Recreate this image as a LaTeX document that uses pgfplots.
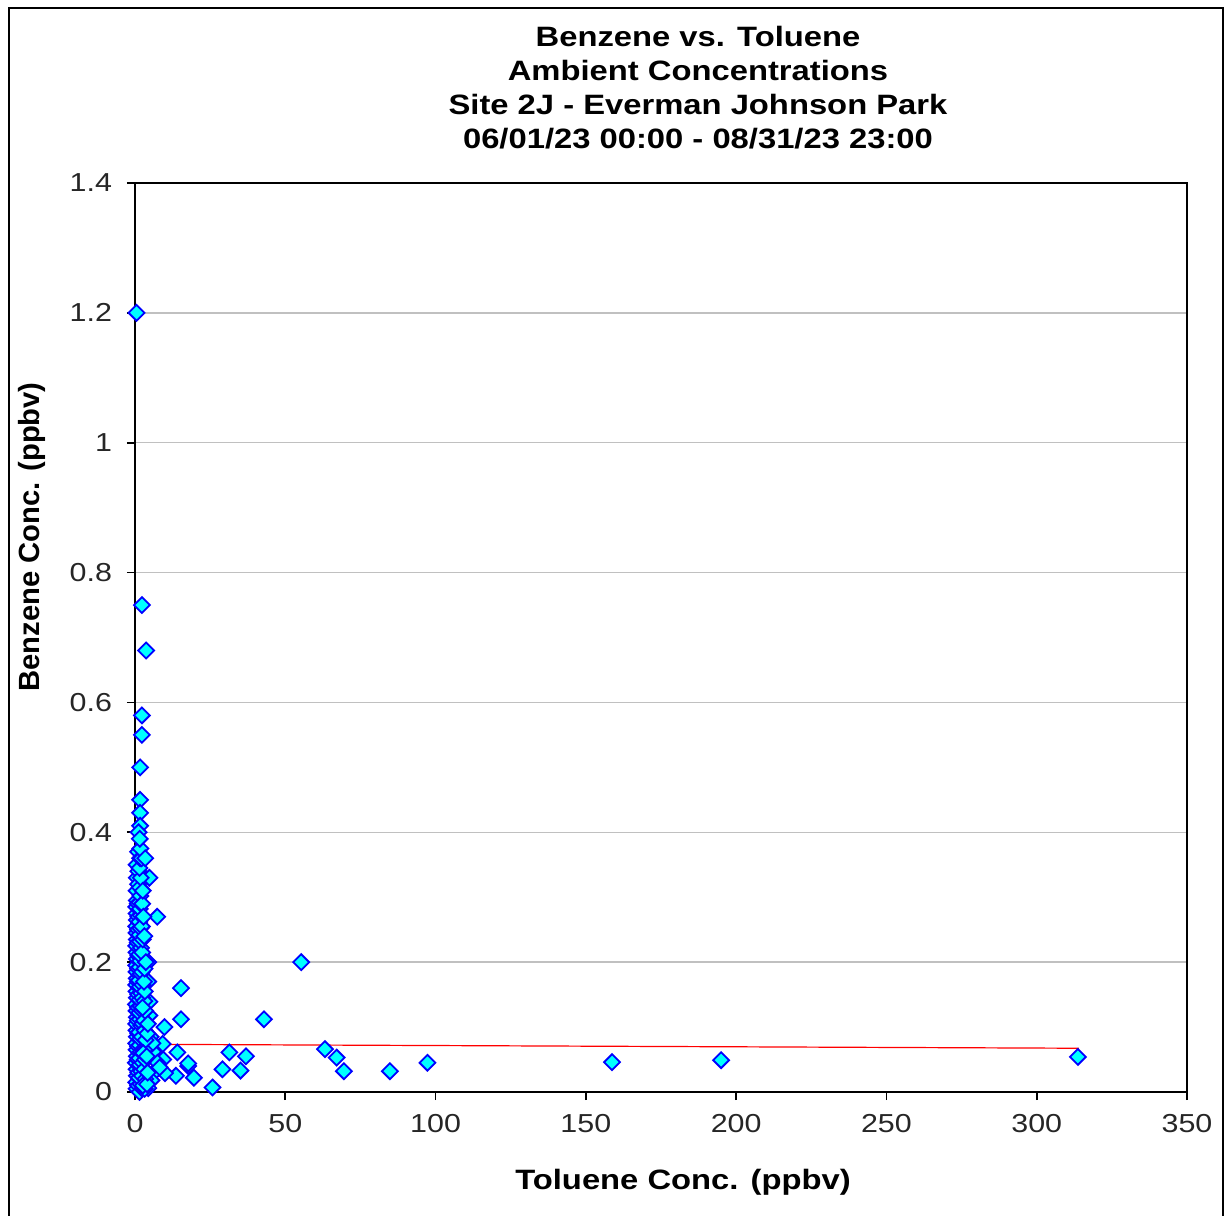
\documentclass[border=0pt]{standalone}
\usepackage{pgfplots}
\pgfplotsset{compat=1.18}
\usepackage{fontspec}
\setmainfont[FakeStretch=1.17]{Liberation Sans}
\newfontfamily\plainfont{Liberation Sans}
\definecolor{mkfill}{RGB}{0,255,255}
\definecolor{mkedge}{RGB}{0,0,255}
\definecolor{gridc}{RGB}{192,192,192}
\begin{document}
\begin{tikzpicture}
\useasboundingbox (-67.5pt,-61.5pt) rectangle (545pt,546pt);
\draw[line width=1pt] (-63pt,-75pt) rectangle (544pt,542pt);
\begin{axis}[
  at={(0pt,0pt)}, anchor=south west,
  scale only axis, width=526pt, height=454.5pt,
  xmin=0, xmax=350, ymin=0, ymax=1.4,
  xtick={0,50,100,150,200,250,300,350},
  xticklabels={0,50,100,150,200,250,300,350},
  ytick={0,0.2,0.4,0.6,0.8,1,1.2,1.4},
  yticklabels={0,0.2,0.4,0.6,0.8,1,1.2,1.4},
  tick align=outside, xtick pos=left, ytick pos=left,
  major tick length=4pt,
  tick style={black, line width=0.8pt},
  axis line style={black, line width=0.9pt},
  ymajorgrids, major grid style={gridc, line width=0.7pt},
  ticklabel style={font=\fontsize{13}{15}\selectfont, text=black!85},
  yticklabel style={xshift=-4pt},
  xticklabel style={yshift=-3.5pt},
  clip=false,
]
\addplot[only marks, mark=square*, mark size=2.8pt,
  mark options={rotate=45, fill=mkfill, draw=mkedge, line width=0.9pt}]
coordinates {
(0.5,1.2) (2.3,0.75) (3.7,0.68) (2.3,0.58) (2.3,0.55) (1.7,0.50) (1.7,0.45) (1.7,0.43) (1.7,0.41)
(4.8,0.33) (7.4,0.27) (55.3,0.20) (15.3,0.16) (15.3,0.112) (42.9,0.112) (9.8,0.10) (9.2,0.074)
(63.2,0.066) (67.1,0.053) (69.5,0.032) (84.8,0.032) (97.3,0.045) (158.7,0.046) (195,0.049) (313.7,0.054)
(31.4,0.061) (36.9,0.055) (29.1,0.035) (35.1,0.033) (25.8,0.007) (19.6,0.022) (17.7,0.040) (17.7,0.044)
(14.1,0.061) (13.6,0.025) (9.4,0.050) (10,0.029) (6.7,0.032) (4.8,0.139) (4.8,0.118) (4.4,0.17) (4.4,0.2)
(6.1,0.062) (5.5,0.018) (4.4,0.006) (7.5,0.045) (8.2,0.038) (5.2,0.085) (5.8,0.075)
(0.5,0.005) (0.4,0.015) (0.6,0.025) (0.5,0.035) (0.3,0.045) (0.6,0.055) (0.5,0.065) (0.4,0.075)
(0.6,0.085) (0.5,0.095) (0.4,0.105) (0.6,0.115) (0.5,0.125) (0.3,0.135) (0.6,0.145) (0.5,0.155)
(0.4,0.165) (0.6,0.175) (0.5,0.185) (0.4,0.195) (0.6,0.205) (0.5,0.215) (0.4,0.225) (0.6,0.235)
(0.5,0.245) (0.4,0.255) (0.6,0.265) (0.5,0.275) (0.4,0.285) (0.6,0.295) (0.5,0.31) (0.6,0.33) (0.5,0.35)
(1.0,0.01) (1.1,0.03) (0.9,0.05) (1.0,0.07) (1.1,0.09) (0.9,0.11) (1.0,0.13) (1.1,0.15) (0.9,0.17)
(1.0,0.19) (1.1,0.21) (0.9,0.23) (1.0,0.25) (1.1,0.27) (0.9,0.29) (1.0,0.32) (1.1,0.34) (1.0,0.37) (1.2,0.40)
(1.5,0.0) (1.8,0.012) (1.3,0.022) (2.0,0.032) (1.6,0.042) (1.4,0.052) (1.9,0.062) (1.5,0.072)
(1.7,0.082) (1.3,0.092) (2.1,0.102) (1.6,0.112) (1.4,0.122) (1.8,0.132) (1.5,0.142) (2.0,0.152)
(1.6,0.162) (1.3,0.172) (1.9,0.182) (1.5,0.192) (1.7,0.202) (1.4,0.212) (2.0,0.222) (1.6,0.232)
(1.5,0.242) (1.8,0.252) (1.4,0.262) (1.9,0.272) (1.6,0.282) (1.5,0.292) (1.8,0.302) (1.6,0.315)
(1.9,0.33) (1.5,0.345) (1.7,0.36) (2.2,0.36) (1.8,0.375) (1.6,0.39)
(2.4,0.005) (2.3,0.025) (2.5,0.045) (2.4,0.065) (2.2,0.085) (2.5,0.105) (2.3,0.125) (2.4,0.145)
(2.5,0.165) (2.3,0.185) (2.4,0.215) (2.6,0.235) (2.3,0.255) (2.4,0.29)
(3.2,0.005) (3.4,0.02) (3.0,0.035) (3.3,0.05) (3.1,0.065) (3.5,0.08) (3.2,0.095) (3.0,0.11)
(3.4,0.125) (3.1,0.14) (3.3,0.155) (3.0,0.17) (3.2,0.19) (3.6,0.2) (3.1,0.24) (3.4,0.36)
(2.6,0.01) (2.7,0.06) (2.5,0.13) (2.8,0.27) (2.6,0.31)
(4.0,0.012) (4.2,0.03) (3.9,0.055) (4.1,0.09) (4.3,0.105)
};
\addplot[red, line width=0.6pt] coordinates {(0.3,0.0735) (314,0.0674)};
\end{axis}
\node[align=center, font=\fontsize{14}{16.9}\selectfont\bfseries] at (281.5pt,502.25pt)
 {Benzene vs. Toluene\\Ambient Concentrations\\Site 2J - Everman Johnson Park\\06/01/23 00:00 - 08/31/23 23:00};
\node[font=\fontsize{14}{16}\selectfont\bfseries] at (274pt,-45pt) {Toluene Conc. (ppbv)};
\node[font=\plainfont\fontsize{14.6}{16}\selectfont\bfseries, rotate=90] at (-51.5pt,277.5pt) {Benzene Conc. (ppbv)};
\end{tikzpicture}
\end{document}
